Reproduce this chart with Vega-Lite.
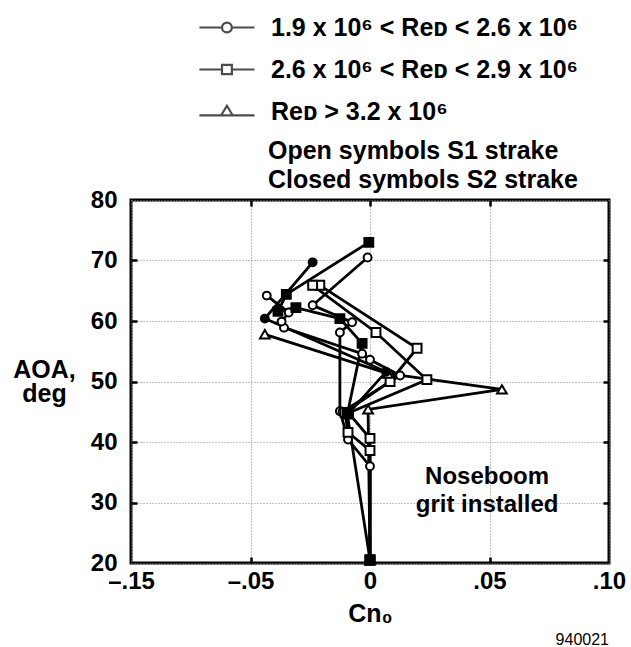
{
  "$schema": "https://vega.github.io/schema/vega-lite/v6.json",
  "autosize": {"type": "none"},
  "width": 478,
  "height": 363,
  "padding": {"left": 131, "top": 200, "right": 22, "bottom": 84},
  "background": "white",
  "config": {
    "view": {"stroke": "black", "strokeWidth": 3},
    "font": "Liberation Sans"
  },
  "title": {
    "text": "940021",
    "orient": "bottom",
    "anchor": "end",
    "frame": "group",
    "offset": 6,
    "fontSize": 16,
    "fontWeight": "normal",
    "font": "Liberation Sans",
    "color": "black"
  },
  "data": {
    "values": [
      {"series": "A", "ReD": "1.9 x 10⁶ < Reᴅ < 2.6 x 10⁶", "strake": "S1", "seq": 0, "Cn": 0, "AOA": 20.5},
      {"series": "A", "ReD": "1.9 x 10⁶ < Reᴅ < 2.6 x 10⁶", "strake": "S1", "seq": 1, "Cn": 0, "AOA": 36.0},
      {"series": "A", "ReD": "1.9 x 10⁶ < Reᴅ < 2.6 x 10⁶", "strake": "S1", "seq": 2, "Cn": -0.0092, "AOA": 40.4},
      {"series": "A", "ReD": "1.9 x 10⁶ < Reᴅ < 2.6 x 10⁶", "strake": "S1", "seq": 3, "Cn": -0.0126, "AOA": 45.1},
      {"series": "A", "ReD": "1.9 x 10⁶ < Reᴅ < 2.6 x 10⁶", "strake": "S1", "seq": 4, "Cn": -0.0126, "AOA": 58.1},
      {"series": "A", "ReD": "1.9 x 10⁶ < Reᴅ < 2.6 x 10⁶", "strake": "S1", "seq": 5, "Cn": -0.0075, "AOA": 59.8},
      {"series": "A", "ReD": "1.9 x 10⁶ < Reᴅ < 2.6 x 10⁶", "strake": "S1", "seq": 6, "Cn": -0.024, "AOA": 62.6},
      {"series": "A", "ReD": "1.9 x 10⁶ < Reᴅ < 2.6 x 10⁶", "strake": "S1", "seq": 7, "Cn": -0.001, "AOA": 70.5},
      {"series": "B", "ReD": "1.9 x 10⁶ < Reᴅ < 2.6 x 10⁶", "strake": "S1", "seq": 1, "Cn": -0.0115, "AOA": 45.0},
      {"series": "B", "ReD": "1.9 x 10⁶ < Reᴅ < 2.6 x 10⁶", "strake": "S1", "seq": 2, "Cn": 0.0126, "AOA": 51.0},
      {"series": "B", "ReD": "1.9 x 10⁶ < Reᴅ < 2.6 x 10⁶", "strake": "S1", "seq": 3, "Cn": 0, "AOA": 53.6},
      {"series": "B", "ReD": "1.9 x 10⁶ < Reᴅ < 2.6 x 10⁶", "strake": "S1", "seq": 4, "Cn": -0.0033, "AOA": 54.6},
      {"series": "B", "ReD": "1.9 x 10⁶ < Reᴅ < 2.6 x 10⁶", "strake": "S1", "seq": 5, "Cn": -0.036, "AOA": 58.9},
      {"series": "B", "ReD": "1.9 x 10⁶ < Reᴅ < 2.6 x 10⁶", "strake": "S1", "seq": 6, "Cn": -0.037, "AOA": 59.9},
      {"series": "B", "ReD": "1.9 x 10⁶ < Reᴅ < 2.6 x 10⁶", "strake": "S1", "seq": 7, "Cn": -0.034, "AOA": 61.4},
      {"series": "B", "ReD": "1.9 x 10⁶ < Reᴅ < 2.6 x 10⁶", "strake": "S1", "seq": 8, "Cn": -0.0432, "AOA": 64.2},
      {"series": "C", "ReD": "2.6 x 10⁶ < Reᴅ < 2.9 x 10⁶", "strake": "S1", "seq": 0, "Cn": 0, "AOA": 20.5},
      {"series": "C", "ReD": "2.6 x 10⁶ < Reᴅ < 2.9 x 10⁶", "strake": "S1", "seq": 1, "Cn": 0, "AOA": 38.6},
      {"series": "C", "ReD": "2.6 x 10⁶ < Reᴅ < 2.9 x 10⁶", "strake": "S1", "seq": 2, "Cn": -0.0092, "AOA": 41.6},
      {"series": "C", "ReD": "2.6 x 10⁶ < Reᴅ < 2.9 x 10⁶", "strake": "S1", "seq": 3, "Cn": -0.0105, "AOA": 44.9},
      {"series": "C", "ReD": "2.6 x 10⁶ < Reᴅ < 2.9 x 10⁶", "strake": "S1", "seq": 4, "Cn": 0.0084, "AOA": 50.0},
      {"series": "C", "ReD": "2.6 x 10⁶ < Reᴅ < 2.9 x 10⁶", "strake": "S1", "seq": 5, "Cn": 0.0197, "AOA": 55.5},
      {"series": "C", "ReD": "2.6 x 10⁶ < Reᴅ < 2.9 x 10⁶", "strake": "S1", "seq": 6, "Cn": -0.021, "AOA": 65.9},
      {"series": "D", "ReD": "2.6 x 10⁶ < Reᴅ < 2.9 x 10⁶", "strake": "S1", "seq": 0, "Cn": 0, "AOA": 20.5},
      {"series": "D", "ReD": "2.6 x 10⁶ < Reᴅ < 2.9 x 10⁶", "strake": "S1", "seq": 1, "Cn": 0, "AOA": 40.6},
      {"series": "D", "ReD": "2.6 x 10⁶ < Reᴅ < 2.9 x 10⁶", "strake": "S1", "seq": 2, "Cn": -0.009, "AOA": 44.8},
      {"series": "D", "ReD": "2.6 x 10⁶ < Reᴅ < 2.9 x 10⁶", "strake": "S1", "seq": 3, "Cn": 0.0238, "AOA": 50.3},
      {"series": "D", "ReD": "2.6 x 10⁶ < Reᴅ < 2.9 x 10⁶", "strake": "S1", "seq": 4, "Cn": 0.0025, "AOA": 58.1},
      {"series": "D", "ReD": "2.6 x 10⁶ < Reᴅ < 2.9 x 10⁶", "strake": "S1", "seq": 5, "Cn": -0.024, "AOA": 65.9},
      {"series": "E", "ReD": "Reᴅ > 3.2 x 10⁶", "strake": "S1", "seq": 0, "Cn": 0, "AOA": 20.5},
      {"series": "E", "ReD": "Reᴅ > 3.2 x 10⁶", "strake": "S1", "seq": 1, "Cn": -0.0008, "AOA": 45.4},
      {"series": "E", "ReD": "Reᴅ > 3.2 x 10⁶", "strake": "S1", "seq": 2, "Cn": 0.0552, "AOA": 48.7},
      {"series": "E", "ReD": "Reᴅ > 3.2 x 10⁶", "strake": "S1", "seq": 3, "Cn": 0.0075, "AOA": 51.3},
      {"series": "E", "ReD": "Reᴅ > 3.2 x 10⁶", "strake": "S1", "seq": 4, "Cn": -0.044, "AOA": 57.8},
      {"series": "F", "ReD": "1.9 x 10⁶ < Reᴅ < 2.6 x 10⁶", "strake": "S2", "seq": 1, "Cn": -0.009, "AOA": 44.7},
      {"series": "F", "ReD": "1.9 x 10⁶ < Reᴅ < 2.6 x 10⁶", "strake": "S2", "seq": 2, "Cn": 0.0067, "AOA": 51.6},
      {"series": "F", "ReD": "1.9 x 10⁶ < Reᴅ < 2.6 x 10⁶", "strake": "S2", "seq": 3, "Cn": -0.044, "AOA": 60.4},
      {"series": "F", "ReD": "1.9 x 10⁶ < Reᴅ < 2.6 x 10⁶", "strake": "S2", "seq": 4, "Cn": -0.024, "AOA": 69.7},
      {"series": "G", "ReD": "2.6 x 10⁶ < Reᴅ < 2.9 x 10⁶", "strake": "S2", "seq": 0, "Cn": 0, "AOA": 20.5},
      {"series": "G", "ReD": "2.6 x 10⁶ < Reᴅ < 2.9 x 10⁶", "strake": "S2", "seq": 1, "Cn": -0.0095, "AOA": 44.6},
      {"series": "G", "ReD": "2.6 x 10⁶ < Reᴅ < 2.9 x 10⁶", "strake": "S2", "seq": 2, "Cn": -0.0033, "AOA": 56.3},
      {"series": "G", "ReD": "2.6 x 10⁶ < Reᴅ < 2.9 x 10⁶", "strake": "S2", "seq": 3, "Cn": -0.0126, "AOA": 60.4},
      {"series": "G", "ReD": "2.6 x 10⁶ < Reᴅ < 2.9 x 10⁶", "strake": "S2", "seq": 4, "Cn": -0.031, "AOA": 62.2},
      {"series": "G", "ReD": "2.6 x 10⁶ < Reᴅ < 2.9 x 10⁶", "strake": "S2", "seq": 5, "Cn": -0.0385, "AOA": 61.6},
      {"series": "G", "ReD": "2.6 x 10⁶ < Reᴅ < 2.9 x 10⁶", "strake": "S2", "seq": 6, "Cn": -0.035, "AOA": 64.4},
      {"series": "G", "ReD": "2.6 x 10⁶ < Reᴅ < 2.9 x 10⁶", "strake": "S2", "seq": 7, "Cn": -0.0005, "AOA": 73.0}
    ]
  },
  "resolve": {
    "axis": {"x": "independent", "y": "independent"},
    "scale": {"shape": "independent", "size": "independent"},
    "legend": {"shape": "independent"}
  },
  "layer": [
    {
      "mark": {"type": "line", "color": "black", "strokeWidth": 2.8},
      "encoding": {
        "x": {
          "field": "Cn", "type": "quantitative",
          "scale": {"domain": [-0.1, 0.1], "nice": false, "zero": false},
          "axis": {
            "values": [-0.1, -0.05, 0, 0.05, 0.1],
            "labelExpr": "datum.value < -0.07 ? '–.15' : datum.value < -0.02 ? '–.05' : datum.value < 0.02 ? '0' : datum.value < 0.07 ? '.05' : '.10'",
            "labelFlush": false, "labelOverlap": false, "labelBound": false,
            "labelFont": "Liberation Sans", "labelFontSize": 24, "labelFontWeight": "bold", "labelColor": "black",
            "labelPadding": 6,
            "ticks": false, "domain": false,
            "grid": true, "gridColor": "#888", "gridDash": [1, 2], "gridWidth": 1,
            "title": "Cn₀", "titleFont": "Liberation Sans", "titleFontSize": 25, "titleFontWeight": "bold", "titleColor": "black", "titlePadding": 8
          }
        },
        "y": {
          "field": "AOA", "type": "quantitative",
          "scale": {"domain": [20, 80], "nice": false, "zero": false},
          "axis": {
            "values": [20, 30, 40, 50, 60, 70, 80],
            "labelFont": "Liberation Sans", "labelFontSize": 24, "labelFontWeight": "bold", "labelColor": "black",
            "labelPadding": 14,
            "ticks": false, "domain": false,
            "grid": true, "gridColor": "#888", "gridDash": [1, 2], "gridWidth": 1,
            "title": ["AOA,", "deg"], "titleAngle": 0, "titleAlign": "center", "titleBaseline": "alphabetic",
            "titleX": -87, "titleY": 177, "titleLineHeight": 24,
            "titleFont": "Liberation Sans", "titleFontSize": 25, "titleFontWeight": "bold", "titleColor": "black"
          }
        },
        "detail": {"field": "series"},
        "order": {"field": "seq"}
      }
    },
    {
      "mark": {"type": "point", "filled": true, "stroke": "black", "strokeWidth": 2, "opacity": 1},
      "encoding": {
        "x": {"field": "Cn", "type": "quantitative",
          "axis": {"orient": "bottom", "labels": false, "grid": false, "domain": false, "title": null,
            "values": [-0.05, 0, 0.05], "ticks": true, "tickSize": -6, "tickWidth": 2.5, "tickColor": "black"}},
        "y": {"field": "AOA", "type": "quantitative",
          "axis": {"orient": "left", "labels": false, "grid": false, "domain": false, "title": null,
            "values": [30, 40, 50, 60, 70], "ticks": true, "tickSize": -6, "tickWidth": 2.5, "tickColor": "black"}},
        "shape": {"field": "ReD", "type": "nominal",
          "scale": {"domain": ["1.9 x 10⁶ < Reᴅ < 2.6 x 10⁶", "2.6 x 10⁶ < Reᴅ < 2.9 x 10⁶", "Reᴅ > 3.2 x 10⁶"],
            "range": ["circle", "square", "triangle-up"]},
          "legend": null},
        "size": {"field": "ReD", "type": "nominal",
          "scale": {"domain": ["1.9 x 10⁶ < Reᴅ < 2.6 x 10⁶", "2.6 x 10⁶ < Reᴅ < 2.9 x 10⁶", "Reᴅ > 3.2 x 10⁶"],
            "range": [62, 95, 80]},
          "legend": null},
        "fill": {"field": "strake", "type": "nominal",
          "scale": {"domain": ["S1", "S2"], "range": ["white", "black"]},
          "legend": null}
      }
    },
    {
      "transform": [{"filter": "datum.seq == 0"}],
      "mark": {"type": "point", "filled": false, "color": "black", "size": 2, "strokeWidth": 2.2},
      "encoding": {
        "x": {"field": "Cn", "type": "quantitative",
          "axis": {"orient": "top", "labels": false, "grid": false, "domain": false, "title": null,
            "values": [-0.05, 0, 0.05], "ticks": true, "tickSize": -6, "tickWidth": 2.5, "tickColor": "black"}},
        "y": {"field": "AOA", "type": "quantitative",
          "axis": {"orient": "right", "labels": false, "grid": false, "domain": false, "title": null,
            "values": [30, 40, 50, 60, 70], "ticks": true, "tickSize": -6, "tickWidth": 2.5, "tickColor": "black"}},
        "shape": {"field": "ReD", "type": "nominal",
          "scale": {"domain": ["1.9 x 10⁶ < Reᴅ < 2.6 x 10⁶", "2.6 x 10⁶ < Reᴅ < 2.9 x 10⁶", "Reᴅ > 3.2 x 10⁶"],
            "range": [
              "M-4.69,0H-3.5M-2.98,0H-1.79M-2.98,0A0.26,0.26,0,1,1,-3.5,0A0.26,0.26,0,1,1,-2.98,0Z",
              "M-4.69,0H-3.5M-2.98,0H-1.79M-3.5,-0.24H-2.98V0.24H-3.5Z",
              "M-4.69,0.2H-3.54M-2.94,0.2H-1.79M-3.54,0.2L-3.24,-0.3L-2.94,0.2Z"
            ]},
          "legend": {
            "orient": "none", "legendX": 137, "legendY": -193,
            "padding": 0, "rowPadding": 8,
            "symbolSize": 1444, "symbolStrokeWidth": 2.2, "symbolStrokeColor": "black", "symbolFillColor": "white",
            "labelOffset": -38, "labelLimit": 0,
            "labelFont": "Liberation Sans", "labelFontSize": 25, "labelFontWeight": "bold", "labelColor": "black",
            "title": ["Open symbols S1 strake", "Closed symbols S2 strake"],
            "titleOrient": "bottom", "titlePadding": 14, "titleLimit": 0, "titleLineHeight": 29,
            "titleFont": "Liberation Sans", "titleFontSize": 25, "titleFontWeight": "bold", "titleColor": "black"
          }
        }
      }
    },
    {
      "data": {"values": [{"Cn": 0.049, "AOA": 34.2, "note": ["Noseboom", "grit installed"]}]},
      "mark": {"type": "text", "font": "Liberation Sans", "fontSize": 24, "fontWeight": "bold", "color": "black",
        "align": "center", "baseline": "middle", "lineHeight": 28},
      "encoding": {
        "x": {"field": "Cn", "type": "quantitative", "axis": null},
        "y": {"field": "AOA", "type": "quantitative", "axis": null},
        "text": {"field": "note"}
      }
    }
  ]
}
